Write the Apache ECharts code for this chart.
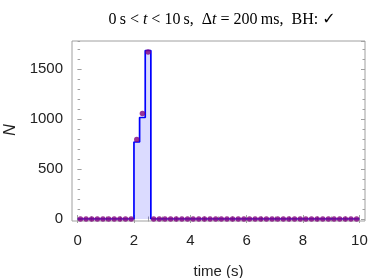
<!DOCTYPE html>
<html>
<head>
<meta charset="utf-8">
<script src="https://cdn.jsdelivr.net/npm/echarts@6/dist/echarts.min.js"></script>
<style>html,body{margin:0;padding:0;background:#fff}#c{width:374px;height:278px}</style>
</head>
<body>
<div id="c"></div>
<script>
// Histogram bin edges (s) and step heights
const binEdges = [0,0.2,0.4,0.6,0.8,1,1.2,1.4,1.6,1.8,2,2.2,2.4,2.6,2.8,3,3.2,3.4,3.6,3.8,4,4.2,4.4,4.6,4.8,5,5.2,5.4,5.6,5.8,6,6.2,6.4,6.6,6.8,7,7.2,7.4,7.6,7.8,8,8.2,8.4,8.6,8.8,9,9.2,9.4,9.6,9.8,10];
const histCounts = [0,0,0,0,0,0,0,0,0,0,770,1015,1685,0,0,0,0,0,0,0,0,0,0,0,0,0,0,0,0,0,0,0,0,0,0,0,0,0,0,0,0,0,0,0,0,0,0,0,0,0];
// Point markers at bin centres
const pointTimes = [0.1,0.3,0.5,0.7,0.9,1.1,1.3,1.5,1.7,1.9,2.1,2.3,2.5,2.7,2.9,3.1,3.3,3.5,3.7,3.9,4.1,4.3,4.5,4.7,4.9,5.1,5.3,5.5,5.7,5.9,6.1,6.3,6.5,6.7,6.9,7.1,7.3,7.5,7.7,7.9,8.1,8.3,8.5,8.7,8.9,9.1,9.3,9.5,9.7,9.9];
const pointCounts = [0,0,0,0,0,0,0,0,0,0,795,1055,1670,0,0,0,0,0,0,0,0,0,0,0,0,0,0,0,0,0,0,0,0,0,0,0,0,0,0,0,0,0,0,0,0,0,0,0,0,0];
const xTickLabels = ['0','2','4','6','8','10'];
const yTickLabels = ['0','500','1000','1500'];

const stepData = histCounts.map((v,i)=>[binEdges[i], v]);
stepData.push([binEdges[binEdges.length-1], histCounts[histCounts.length-1]]);
const dotData = pointTimes.map((t,i)=>[t, pointCounts[i]]);

const frameCol = '#a0a0a0';
const labCol = '#222';
const sans = 'Liberation Sans';

const chart = echarts.init(document.getElementById('c'), null, {renderer:'canvas'});
chart.setOption({
  animation:false,
  backgroundColor:'#fff',
  title:{
    text:'0\u2009s < {i|t} < 10\u2009s,  \u0394{i|t} = 200\u2009ms,  BH: {c|\u2713}',
    left:217, top:7, textAlign:'center',
    textStyle:{fontFamily:'Liberation Serif', fontSize:16, fontWeight:'normal', color:'#000',
      rich:{i:{fontFamily:'Liberation Serif', fontStyle:'italic', fontSize:16, color:'#000'},
            c:{fontFamily:'DejaVu Sans', fontWeight:'bold', fontSize:16, color:'#000'}}}
  },
  grid:[
    {left:72, right:9, top:41, bottom:57, show:true, borderColor:frameCol, borderWidth:1, backgroundColor:'transparent', containLabel:false, outerBoundsMode:'none'},
    {left:77.6, right:14.6, top:41, bottom:59, containLabel:false, outerBoundsMode:'none'}
  ],
  xAxis:[
    {gridIndex:0, type:'value', show:false, min:0, max:1},
    {gridIndex:1, type:'value', min:0, max:10, interval:2, position:'bottom', offset:2,
      axisLine:{show:false}, splitLine:{show:false},
      axisTick:{show:true, inside:true, length:4, lineStyle:{color:frameCol}},
      minorTick:{show:true, splitNumber:4, length:2.5, lineStyle:{color:frameCol}},
      axisLabel:{margin:12, fontFamily:sans, fontSize:15, color:labCol,
        formatter:(v)=>{const i=Math.round(v/2); return xTickLabels[i]!==undefined?xTickLabels[i]:'';}},
      name:'time (s)', nameLocation:'middle', nameGap:43,
      nameTextStyle:{fontFamily:sans, fontSize:15, color:labCol}},
    {gridIndex:1, type:'value', min:0, max:10, interval:2, position:'top',
      axisLine:{show:false}, splitLine:{show:false}, axisLabel:{show:false},
      axisTick:{show:true, inside:true, length:4, lineStyle:{color:frameCol}},
      minorTick:{show:true, splitNumber:4, length:2.5, lineStyle:{color:frameCol}}}
  ],
  yAxis:[
    {gridIndex:0, type:'value', show:false, min:0, max:1},
    {gridIndex:1, type:'value', min:0, max:1780, interval:500, position:'left', offset:5.6,
      axisLine:{show:false}, splitLine:{show:false},
      axisTick:{show:true, inside:true, length:4, lineStyle:{color:frameCol}},
      axisLabel:{margin:9, fontFamily:sans, fontSize:15, color:labCol, showMaxLabel:false,
        formatter:(v)=>{const i=Math.round(v/500); return (v%500===0 && yTickLabels[i]!==undefined)?yTickLabels[i]:'';}},
      name:'N', nameLocation:'middle', nameGap:52,
      nameTextStyle:{fontFamily:sans, fontSize:16, fontStyle:'italic', color:labCol}},
    {gridIndex:1, type:'value', min:0, max:1780, interval:100, position:'left', offset:5.6,
      axisLine:{show:false}, splitLine:{show:false}, axisLabel:{show:false},
      axisTick:{show:true, inside:true, length:2.5, lineStyle:{color:frameCol}}},
    {gridIndex:1, type:'value', min:0, max:1780, interval:500, position:'right', offset:5.6,
      axisLine:{show:false}, splitLine:{show:false}, axisLabel:{show:false},
      axisTick:{show:true, inside:true, length:4, lineStyle:{color:frameCol}}},
    {gridIndex:1, type:'value', min:0, max:1780, interval:100, position:'right', offset:5.6,
      axisLine:{show:false}, splitLine:{show:false}, axisLabel:{show:false},
      axisTick:{show:true, inside:true, length:2.5, lineStyle:{color:frameCol}}}
  ],
  series:[
    {type:'line', xAxisIndex:1, yAxisIndex:1, data:stepData, step:'end', symbol:'none',
      lineStyle:{color:'#0000ff', width:1.7}, areaStyle:{color:'rgba(0,0,255,0.2)'}, z:2},
    {type:'scatter', xAxisIndex:1, yAxisIndex:1, data:dotData, symbol:'circle', symbolSize:5.5,
      itemStyle:{color:'#800080'}, z:3}
  ]
});
</script>
</body>
</html>
